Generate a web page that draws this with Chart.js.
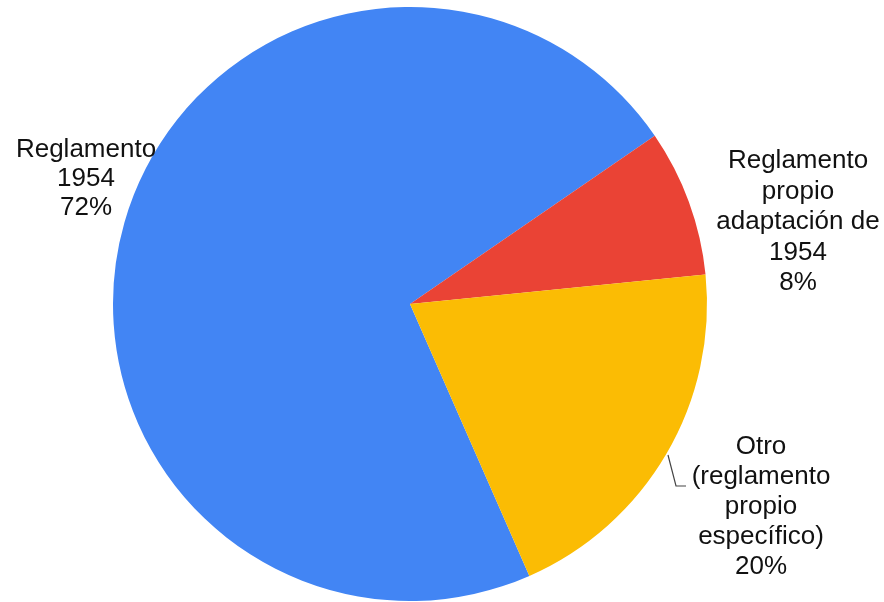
<!doctype html>
<html lang="es">
<head>
<meta charset="utf-8"/>
<title>Reglamento</title>
<script src="https://cdn.jsdelivr.net/npm/chart.js"></script>
<style>
*{box-sizing:border-box} html,body{margin:0;padding:0;background:#fff}
.wrap{width:884px;height:602px;position:relative}
</style>
</head>
<body>
<div class="wrap"><canvas id="pie" width="884" height="602"></canvas></div>
<script>
// data
const categories = ['Reglamento 1954', 'Reglamento propio adaptación de 1954', 'Otro (reglamento propio específico)'];
const values = [72, 8, 20];
const labelLines = [
  ['Reglamento', '1954', '72%'],
  ['Reglamento', 'propio', 'adaptación de', '1954', '8%'],
  ['Otro', '(reglamento', 'propio', 'específico)', '20%']
];
const colors = ['#4285f4', '#ea4335', '#fbbc04'];

// where each label block sits (center of first line) and line spacing
const labelPos = [
  { x: 86, y: 150, lh: 29 },
  { x: 798, y: 161, lh: 30.5 },
  { x: 761, y: 447, lh: 30 }
];

const outsideLabels = {
  id: 'outsideLabels',
  afterDatasetsDraw(chart) {
    const ctx = chart.ctx;
    ctx.save();
    ctx.fillStyle = '#111';
    ctx.font = '26px "Liberation Sans", Arial, sans-serif';
    ctx.textAlign = 'center';
    ctx.textBaseline = 'middle';
    labelLines.forEach((lines, i) => {
      const p = labelPos[i];
      lines.forEach((t, j) => ctx.fillText(t, p.x, p.y + j * p.lh));
    });
    // leader line for "Otro"
    ctx.strokeStyle = '#444';
    ctx.lineWidth = 1.2;
    ctx.beginPath();
    ctx.moveTo(668, 455);
    ctx.lineTo(676, 486);
    ctx.lineTo(686, 486);
    ctx.stroke();
    ctx.restore();
  }
};

new Chart(document.getElementById('pie'), {
  type: 'pie',
  data: { labels: categories, datasets: [{ data: values, backgroundColor: colors, borderWidth: 0 }] },
  options: {
    responsive: false,
    animation: false,
    rotation: 156.3,
    layout: { padding: { top: 7, bottom: 1, left: 0, right: 64 } },
    plugins: { legend: { display: false }, tooltip: { enabled: false } }
  },
  plugins: [outsideLabels]
});
</script>
</body>
</html>
